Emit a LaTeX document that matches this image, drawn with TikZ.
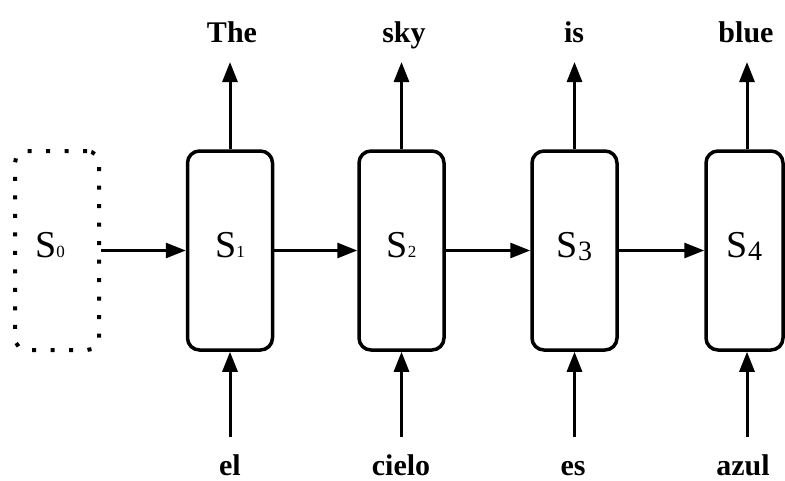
\documentclass[tikz,border=0pt]{standalone}
\usepackage{fontspec}
\setmainfont{Liberation Serif}
\usetikzlibrary{arrows.meta}
\newcommand\smalldig[1]{{\fontsize{17}{17}\selectfont #1}}
\newcommand\bigdig[1]{\raisebox{-3pt}{\fontsize{28}{28}\selectfont #1}}
\begin{document}
\begin{tikzpicture}[x=1pt,y=-1pt,
  cell/.style={draw, line width=3.5pt, rounded corners=12pt, minimum width=85pt,
    minimum height=199pt, inner sep=0pt, font=\fontsize{38}{38}\selectfont,
    text height=25pt, text depth=12pt},
  ghost/.style={draw, line width=4pt, dash pattern=on 4pt off 14.5pt,
    rounded corners=12pt, minimum width=84pt, minimum height=199pt, inner sep=0pt},
  slabel/.style={font=\fontsize{38}{38}\selectfont, inner sep=0pt, anchor=base},
  word/.style={font=\fontsize{30}{30}\selectfont\bfseries, anchor=base, inner sep=0pt},
  arr/.style={line width=3pt, -{Triangle[length=20pt,width=15pt]}}]
\useasboundingbox (0,0) rectangle (785,480);

% cells
\node[ghost] (S0) at (57,250.5) {};
\node[slabel] (L0) at (50,257) {S\smalldig{0}};
\node[cell] (S1) at (230,250.5) {S\smalldig{1}};
\node[cell] (S2) at (401.5,250.5) {S\smalldig{2}};
\node[cell] (S3) at (574.5,250.5) {S\bigdig{3}};
\node[cell, minimum width=77pt] (S4) at (744.5,250.5) {S\bigdig{4}};

% output words
\node[word] (o1) at (232,42) {The};
\node[word] (o2) at (404,42) {sky};
\node[word] (o3) at (574,42) {is};
\node[word] (o4) at (746,42) {blue};

% input words
\node[word] (i1) at (230,475) {el};
\node[word] (i2) at (401,475) {cielo};
\node[word] (i3) at (573,475) {es};
\node[word] (i4) at (743,475) {azul};

% arrow end points
\coordinate (t1) at (230,62);
\coordinate (t2) at (401.5,62);
\coordinate (t3) at (574.5,62);
\coordinate (t4) at (747,62);
\coordinate (b1) at (230,437);
\coordinate (b2) at (401.5,437);
\coordinate (b3) at (574.5,437);
\coordinate (b4) at (747,437);

% horizontal connectors
\draw[arr] (S0.east) -- (S1.west);
\draw[arr] (S1.east) -- (S2.west);
\draw[arr] (S2.east) -- (S3.west);
\draw[arr] (S3.east) -- (S4.west);

% vertical connectors
\draw[arr] (S1.north) -- (t1);
\draw[arr] (S2.north) -- (t2);
\draw[arr] (S3.north) -- (t3);
\draw[arr] (S4.north -| t4) -- (t4);
\draw[arr] (b1) -- (S1.south);
\draw[arr] (b2) -- (S2.south);
\draw[arr] (b3) -- (S3.south);
\draw[arr] (b4) -- (S4.south -| b4);
\end{tikzpicture}
\end{document}
